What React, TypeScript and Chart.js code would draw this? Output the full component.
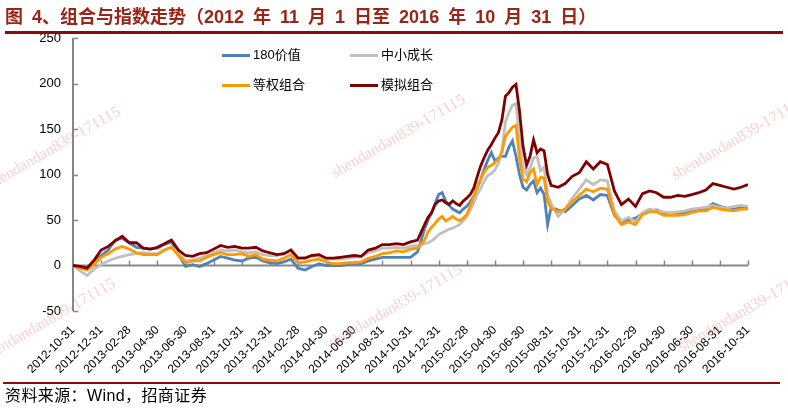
import React, { useEffect, useRef } from 'react';
import { Chart, registerables } from 'chart.js';

Chart.register(...registerables);

// x tick labels (every two months from 2012-10-31)
const TICK_LABELS = [
  '2012-10-31', '2012-12-31', '2013-02-28', '2013-04-30', '2013-06-30', '2013-08-31',
  '2013-10-31', '2013-12-31', '2014-02-28', '2014-04-30', '2014-06-30', '2014-08-31',
  '2014-10-31', '2014-12-31', '2015-02-28', '2015-04-30', '2015-06-30', '2015-08-31',
  '2015-10-31', '2015-12-31', '2016-02-29', '2016-04-30', '2016-06-30', '2016-08-31',
  '2016-10-31',
];

// sample dates, in months since 2012-10-31
const T_MONTHS = [
  0, 0.5, 1, 1.5, 2, 2.5, 3, 3.5, 4, 4.5, 5, 5.5, 6, 6.5, 7, 7.5, 8, 8.5, 9, 9.5,
  10, 10.5, 11, 11.5, 12, 12.5, 13, 13.5, 14, 14.5, 15, 15.5, 16, 16.5, 17, 17.5, 18, 18.5, 19, 19.5,
  20, 20.5, 21, 21.5, 22, 22.5, 23, 23.5, 24, 24.5,
  25, 25.25, 25.5, 25.75, 26, 26.25, 26.5, 26.75, 27, 27.25, 27.5, 27.75, 28, 28.25, 28.5, 28.75,
  29, 29.25, 29.5, 29.75, 30, 30.25, 30.5, 30.75, 31, 31.25, 31.5, 31.75, 32, 32.25, 32.5, 32.75,
  33, 33.25, 33.5, 33.75, 34,
  34.5, 35, 35.5, 36, 36.5, 37, 37.5, 38, 38.5, 39, 39.5, 40, 40.5, 41, 41.5, 42, 42.5, 43, 43.5,
  44, 44.5, 45, 45.5, 46, 46.5, 47, 47.5, 48,
];

// 180价值
const VALUE_180 = [
  0, -2, -3, 5, 11, 17, 28, 30, 25, 20, 19, 18, 19, 23, 26, 12, -1, 1, -1, 2,
  6, 10, 8, 6, 5, 8, 9, 5, 3, 2, 4, 7, -3, -5, -1, 2, 0, 0, 0, 1,
  2, 2, 5, 7, 9, 9, 9, 9, 9, 15,
  40, 50, 58, 68, 78, 80, 71, 66, 62, 60, 58, 62, 65, 70, 76, 86, 95, 106, 116, 124,
  115, 118, 120, 120, 130, 137, 120, 100, 86, 83, 89, 93, 80, 85, 78, 45, 64,
  61, 59, 66, 73, 77, 72, 78, 77, 55, 47, 50, 52, 57, 60, 61, 58, 57, 56, 58, 60,
  61, 62, 68, 65, 63, 62, 64, 65,
];

// 中小成长
const SMALL_GROWTH = [
  0, -6, -11, -4, 1, 5, 8, 10, 12, 13, 14, 13, 13, 17, 20, 14, 5, 6, 8, 11,
  14, 17, 16, 17, 15, 14, 15, 12, 11, 11, 13, 17, 8, 9, 11, 10, 8, 7, 7, 8,
  9, 10, 14, 16, 19, 19, 20, 19, 21, 22,
  24, 25, 27, 30, 34, 36, 38, 40, 41, 43, 45, 49, 54, 61, 69, 78, 85, 93, 99, 101,
  105, 112, 125, 158, 168, 176, 178, 140, 108, 100, 107, 118, 120, 104, 108, 78, 68,
  54, 62, 74, 84, 94, 89, 94, 93, 60, 49, 53, 48, 58, 62, 60, 59, 58, 59, 60, 62,
  63, 64, 66, 64, 63, 65, 66, 65,
];

// 等权组合
const EQUAL_WEIGHT = [
  0, -3, -5, 1, 9, 13, 18, 21, 18, 14, 12, 12, 12, 17, 20, 11, 3, 5, 5, 9,
  12, 14, 12, 12, 13, 10, 12, 7, 6, 5, 8, 12, 3, 4, 6, 7, 4, 2, 2, 3,
  3, 4, 8, 10, 13, 14, 16, 15, 18, 19,
  28, 37, 42, 46, 51, 54, 49, 51, 54, 51, 49, 52, 56, 65, 76, 86, 95, 103, 108, 110,
  113, 117, 125, 142, 147, 152, 154, 118, 95, 92, 102, 106, 89, 97, 96, 70, 63,
  59, 62, 70, 77, 84, 81, 85, 84, 56, 45, 48, 45, 56, 59, 59, 55, 55, 55, 56, 58,
  60, 60, 64, 62, 61, 60, 62, 62,
];

// 模拟组合
const SIM_PORTFOLIO = [
  0, -1, -3, 6, 17, 21, 27, 32, 25, 25, 19, 18, 20, 24, 28, 17, 11, 10, 13, 14,
  18, 22, 20, 21, 19, 19, 20, 16, 14, 12, 13, 17, 8, 8, 11, 12, 8, 8, 9, 10,
  11, 10, 17, 19, 23, 23, 24, 23, 26, 28,
  45, 53, 58, 67, 71, 72, 69, 67, 71, 68, 66, 71, 74, 78, 85, 98, 110, 119, 127, 133,
  140, 146, 160, 186, 190, 196, 199, 170, 131, 110, 120, 138, 124, 128, 126, 100, 88,
  86, 90, 98, 102, 114, 106, 114, 111, 82, 67, 73, 65, 79, 82, 80, 75, 75, 77, 76, 78,
  80, 83, 90, 88, 86, 84, 86, 89,
];

const SERIES_NAMES = ['180价值', '中小成长', '等权组合', '模拟组合'];
const SERIES_COLORS = ['#4F81BD', '#C0C0C0', '#FF9900', '#800000'];
const SERIES_VALUES = [VALUE_180, SMALL_GROWTH, EQUAL_WEIGHT, SIM_PORTFOLIO];

const WATERMARK_TEXT = 'shendandan839-171115';
const WATERMARK_SPOTS = [
  [-10, 190], [335, 178], [675, 180], [-15, 362], [332, 348], [682, 352],
];

const AXIS_COLOR = '#878787';

const customPlugin = {
  id: 'customAxes',
  beforeDatasetsDraw(chart: any) {
    const { ctx, chartArea, scales } = chart;
    const x = scales.x;
    const y = scales.y;
    ctx.save();
    // watermark
    ctx.font = '16px "Liberation Serif", "DejaVu Serif", serif';
    ctx.fillStyle = 'rgba(240, 140, 140, 0.42)';
    ctx.textBaseline = 'alphabetic';
    ctx.textAlign = 'left';
    for (const [wx, wy] of WATERMARK_SPOTS) {
      ctx.save();
      ctx.translate(wx, wy);
      ctx.rotate(-30 * Math.PI / 180);
      ctx.fillText(WATERMARK_TEXT, 0, 0);
      ctx.restore();
    }
    ctx.strokeStyle = AXIS_COLOR;
    ctx.lineWidth = 2;
    const ax = chartArea.left;
    // y axis
    ctx.beginPath();
    ctx.moveTo(ax, y.getPixelForValue(y.max));
    ctx.lineTo(ax, y.getPixelForValue(y.min));
    ctx.stroke();
    for (const t of y.ticks) {
      const py = Math.round(y.getPixelForValue(t.value)) + 0.5;
      ctx.beginPath();
      ctx.lineWidth = 1.5;
      ctx.moveTo(ax, py);
      ctx.lineTo(ax + 5, py);
      ctx.stroke();
    }
    // zero line
    const zy = y.getPixelForValue(0);
    ctx.lineWidth = 2;
    ctx.beginPath();
    ctx.moveTo(ax, zy);
    ctx.lineTo(chartArea.right, zy);
    ctx.stroke();
    ctx.lineWidth = 1.5;
    for (const t of x.ticks) {
      const px = Math.round(x.getPixelForValue(t.value)) + 0.5;
      if (t.value === x.min) continue;
      ctx.beginPath();
      ctx.moveTo(px, zy);
      ctx.lineTo(px, zy - 5);
      ctx.stroke();
    }
    ctx.restore();
  },
  afterDatasetsDraw(chart: any) {
    const { ctx, chartArea } = chart;
    ctx.save();
    ctx.font = '13px "Liberation Sans", "Noto Sans CJK SC", sans-serif';
    ctx.textBaseline = 'middle';
    ctx.textAlign = 'left';
    const cols = [149, 277];
    const rows = [17.5, 47.5];
    SERIES_NAMES.forEach((name, i) => {
      const lx = chartArea.left + cols[i % 2];
      const ly = chartArea.top + rows[Math.floor(i / 2)];
      ctx.strokeStyle = SERIES_COLORS[i];
      ctx.lineWidth = 3;
      ctx.beginPath();
      ctx.moveTo(lx, ly);
      ctx.lineTo(lx + 28, ly);
      ctx.stroke();
      ctx.fillStyle = '#000';
      ctx.fillText(name, lx + 31, ly);
    });
    ctx.restore();
  },
};

export default function App() {
  const ref = useRef<HTMLCanvasElement | null>(null);

  useEffect(() => {
    if (!ref.current) return;
    const datasets = SERIES_NAMES.map((name, i) => ({
      label: name,
      data: T_MONTHS.map((m, k) => ({ x: m, y: SERIES_VALUES[i][k] })),
      borderColor: SERIES_COLORS[i],
      backgroundColor: SERIES_COLORS[i],
      borderWidth: 2.8,
      pointRadius: 0,
      tension: 0,
      fill: false,
      order: 4 - i,
    }));
    const chart = new Chart(ref.current, {
      type: 'line',
      data: { datasets },
      options: {
        animation: false,
        responsive: false,
        layout: { padding: { top: 38, right: 40, left: 0, bottom: 0 } },
        plugins: { legend: { display: false }, tooltip: { enabled: false } },
        scales: {
          x: {
            type: 'linear',
            min: 0,
            max: 48,
            grid: { display: false, drawTicks: false },
            border: { display: false },
            afterFit: (s: any) => { s.height = 98; },
            ticks: {
              stepSize: 2,
              autoSkip: false,
              maxRotation: 45,
              minRotation: 45,
              padding: 12,
              color: '#000',
              font: { family: '"Liberation Sans", Arial, sans-serif', size: 12 },
              callback: (v: any) => TICK_LABELS[Math.round(Number(v) / 2)] ?? '',
            },
          },
          y: {
            min: -50,
            max: 250,
            grid: { display: false, drawTicks: false },
            border: { display: false },
            afterFit: (s: any) => { s.width = 73; },
            ticks: {
              stepSize: 50,
              padding: 12,
              color: '#000',
              font: { family: '"Liberation Sans", Arial, sans-serif', size: 13 },
            },
          },
        },
      },
      plugins: [customPlugin],
    });
    return () => chart.destroy();
  }, []);

  return (
    <div style={{ position: 'absolute', left: 0, top: 0, width: 788, height: 409, background: '#fff', overflow: 'hidden' }}>
      <canvas ref={ref} width={788} height={409} style={{ position: 'absolute', left: 0, top: 0 }} />
      <div style={{
        position: 'absolute', left: 5, top: 3, fontFamily: '"Liberation Sans", "Noto Sans CJK SC", sans-serif', fontWeight: 700,
        fontSize: 18, color: '#9A2416', whiteSpace: 'nowrap', lineHeight: '28px', wordSpacing: 4,
      }}>
        图 4、组合与指数走势（2012 年 11 月 1 日至 2016 年 10 月 31 日）
      </div>
      <div style={{ position: 'absolute', left: 5, top: 31, width: 778, height: 3, background: '#8B0A0A' }} />
      <div style={{ position: 'absolute', left: 3, top: 382, width: 777, height: 2, background: '#8B0A0A' }} />
      <div style={{
        position: 'absolute', left: 5, top: 386, fontFamily: '"Liberation Sans", "Noto Sans CJK SC", sans-serif',
        fontSize: 16, color: '#000', whiteSpace: 'nowrap', lineHeight: '20px', letterSpacing: 0.4,
      }}>
        资料来源：Wind，招商证券
      </div>
    </div>
  );
}
